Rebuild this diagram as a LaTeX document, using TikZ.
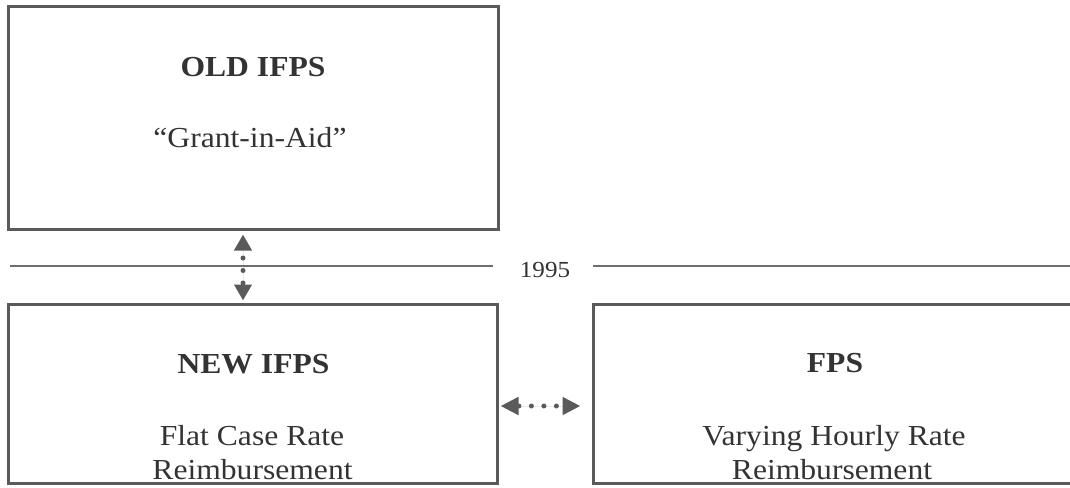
\documentclass[tikz,border=0pt]{standalone}
\usepackage{fontspec}
\setmainfont{Liberation Serif}[FakeStretch=1.09]
\usetikzlibrary{arrows.meta}
\definecolor{boxgray}{HTML}{5A5A5A}
\definecolor{txtgray}{HTML}{333333}
\definecolor{linegray}{HTML}{6E6E6E}
\tikzset{
  panel/.style={draw=boxgray, line width=3pt, minimum width=#1, minimum height=179pt, inner sep=0pt},
  lbl/.style={anchor=base, text=txtgray, inner sep=0pt, font=\fontsize{29}{34}\selectfont},
  title/.style={lbl, font=\fontsize{29}{34}\selectfont\bfseries},
  timeline/.style={draw=linegray, line width=1.4pt},
  dotarrow/.style={draw=boxgray, fill=boxgray, line width=5pt, line cap=round,
    dash pattern=on 0pt off 12.5pt,
    {Triangle[length=#1,width=17pt]}-{Triangle[length=#1,width=17pt]}},
}
\begin{document}
\begin{tikzpicture}[x=1pt,y=-1pt]
\useasboundingbox[fill=white] (0,0) rectangle (1070,487);
% boxes
\node[panel=490pt, minimum height=222pt] (old) at (253,118) {};
\node[panel=489pt] (new) at (252.5,393.5) {};
\node[panel=484pt] (fps) at (835,393.5) {};
% texts
\node[title] (oldt) at (253,77) {OLD IFPS};
\node[lbl] (olds) at (250,147) {“Grant-in-Aid”};
\node[title] (newt) at (253.5,373) {NEW IFPS};
\node[lbl] (news1) at (252,445) {Flat Case Rate};
\node[lbl] (news2) at (252.5,479) {Reimbursement};
\node[title] (fpst) at (835,372) {FPS};
\node[lbl] (fpss1) at (834,445) {Varying Hourly Rate};
\node[lbl] (fpss2) at (832,479) {Reimbursement};
% timeline
\coordinate (tlA) at (10,266);
\coordinate (tlB) at (493,266);
\coordinate (tlC) at (593,266);
\coordinate (tlD) at (1070,266);
\node[lbl, font=\fontsize{23}{27}\selectfont] (yr) at (545,277) {1995};
\draw[timeline] (tlA) -- (tlB);
\draw[timeline] (tlC) -- (tlD);
% connectors
\coordinate (vx) at (243,0);
\draw[dotarrow=16pt, dash phase=4pt, shorten <=4pt, shorten >=2pt] (old.south -| vx) -- (new.north -| vx);
\coordinate (hy) at (0,406);
\draw[dotarrow=18pt, dash phase=11pt, shorten <=2pt, shorten >=11pt] (new.east |- hy) -- (fps.west |- hy);
\end{tikzpicture}
\end{document}
